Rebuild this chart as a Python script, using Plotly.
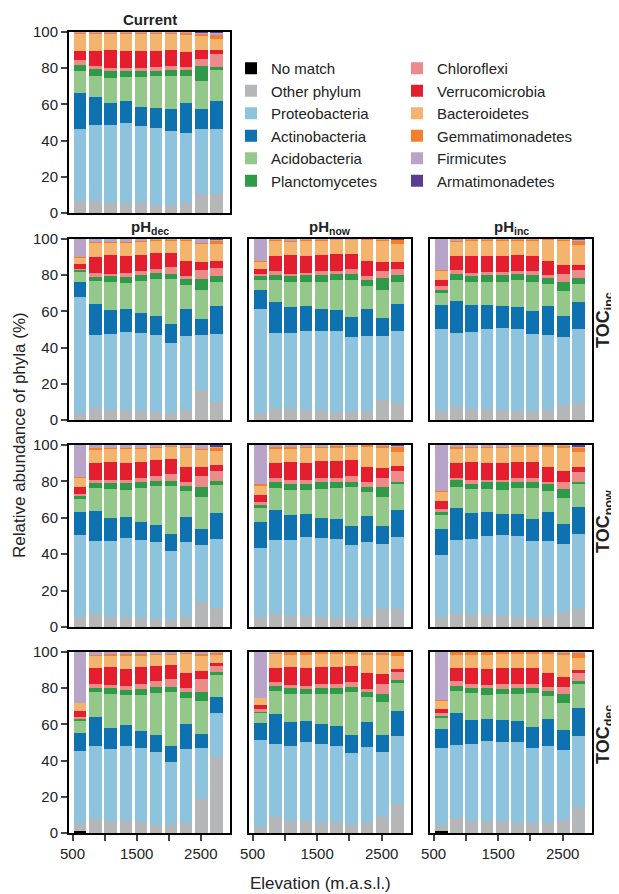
import plotly.graph_objects as go

# elevation of the 10 sites (m a.s.l.)
elevation = [620, 855, 1090, 1330, 1565, 1800, 2035, 2270, 2510, 2745]

phyla = ["No match", "Other phylum", "Proteobacteria", "Actinobacteria",
         "Acidobacteria", "Planctomycetes", "Chloroflexi", "Verrucomicrobia",
         "Bacteroidetes", "Gemmatimonadetes", "Firmicutes", "Armatimonadetes"]
colors = ["#000000", "#b4b6b7", "#8ec3de", "#0f72b0", "#94c88a", "#2f9a47",
          "#ed8a8a", "#e51e2f", "#f5b46d", "#f37f2e", "#b8a4c9", "#5b3c90"]

# cumulative upper edge (%) of each phylum, rows in the order of `phyla`
current = [
    [0, 0, 0, 0, 0, 0, 0, 0, 0, 0],
    [6.6, 6.6, 5.7, 5.7, 5.3, 4.2, 4.6, 5.3, 10.3, 10.3],
    [46.6, 48.8, 48.8, 49.9, 48.3, 47.1, 45.5, 44.4, 46.6, 46.6],
    [66.5, 64.3, 61.0, 62.1, 58.7, 58.2, 57.6, 61.0, 57.6, 62.1],
    [78.6, 75.9, 74.8, 75.3, 75.3, 75.9, 75.9, 75.9, 73.1, 79.2],
    [82.0, 79.7, 78.6, 78.6, 78.6, 78.6, 79.2, 79.2, 81.4, 80.8],
    [84.3, 81.4, 80.3, 80.3, 80.3, 80.8, 81.4, 80.8, 85.3, 88.0],
    [89.7, 89.3, 89.9, 89.3, 89.3, 89.3, 89.9, 89.1, 90.2, 90.2],
    [98.9, 98.9, 98.9, 98.9, 98.9, 98.9, 98.9, 98.3, 98.0, 96.3],
    [99.4, 99.4, 99.4, 99.4, 99.4, 99.4, 99.4, 99.4, 98.9, 98.5],
    [100, 100, 100, 100, 100, 100, 100, 100, 99.6, 99.3],
    [100, 100, 100, 100, 100, 100, 100, 100, 100, 100],
]

phdec_tocinc = [
    [0, 0, 0, 0, 0, 0, 0, 0, 0, 0],
    [3.1, 6.8, 5.5, 5.5, 5.2, 4.4, 4.1, 5.5, 16.6, 9.9],
    [68.0, 47.0, 47.5, 48.6, 48.1, 47.0, 42.5, 46.4, 47.0, 47.5],
    [76.2, 64.1, 60.8, 61.3, 59.1, 57.5, 53.0, 61.3, 55.8, 63.0],
    [81.8, 76.8, 76.2, 75.7, 76.8, 77.9, 77.9, 74.6, 71.8, 76.2],
    [82.9, 79.0, 79.6, 79.0, 80.1, 81.2, 80.7, 77.9, 77.9, 79.6],
    [83.6, 81.2, 80.7, 81.2, 82.3, 83.4, 84.5, 79.6, 82.9, 84.0],
    [86.4, 90.1, 91.2, 90.6, 91.2, 92.3, 92.3, 87.8, 87.3, 87.8],
    [89.7, 97.8, 97.8, 97.8, 98.3, 98.9, 98.9, 98.9, 97.2, 97.2],
    [90.0, 98.3, 98.3, 98.3, 98.8, 99.4, 99.4, 99.4, 97.8, 98.9],
    [100, 100, 100, 100, 100, 100, 100, 100, 100, 99.4],
    [100, 100, 100, 100, 100, 100, 100, 100, 100, 100],
]

phnow_tocinc = [
    [0, 0, 0, 0, 0, 0, 0, 0, 0, 0],
    [4.1, 6.8, 6.3, 5.5, 5.5, 4.4, 4.4, 5.2, 11.1, 9.6],
    [61.6, 48.2, 48.2, 49.4, 49.4, 49.4, 46.0, 46.6, 46.6, 49.4],
    [72.1, 65.4, 62.7, 63.2, 61.6, 61.0, 57.1, 61.6, 56.6, 64.3],
    [77.6, 77.1, 76.0, 76.0, 76.5, 77.1, 77.6, 74.3, 72.1, 76.0],
    [79.3, 79.9, 79.3, 79.9, 79.9, 80.4, 80.4, 77.1, 78.2, 79.9],
    [80.4, 82.1, 80.4, 81.0, 82.1, 82.1, 83.2, 79.3, 82.1, 83.2],
    [83.2, 90.4, 90.9, 90.4, 90.9, 91.5, 91.5, 87.6, 87.1, 87.1],
    [87.1, 98.7, 98.2, 98.7, 98.7, 99.3, 99.3, 99.3, 98.7, 97.0],
    [87.6, 99.2, 98.7, 99.2, 99.2, 99.6, 99.6, 99.8, 99.2, 99.3],
    [100, 100, 100, 100, 100, 100, 100, 100, 100, 99.6],
    [100, 100, 100, 100, 100, 100, 100, 100, 100, 100],
]

phinc_tocinc = [
    [0, 0, 0, 0, 0, 0, 0, 0, 0, 0],
    [5.2, 7.4, 6.3, 6.3, 5.5, 5.2, 5.2, 5.5, 8.5, 9.6],
    [50.5, 48.2, 48.8, 50.5, 51.0, 50.5, 47.7, 47.1, 46.0, 50.5],
    [63.8, 66.0, 63.8, 63.8, 63.2, 62.7, 60.4, 63.2, 57.7, 65.4],
    [70.4, 77.6, 76.5, 76.5, 76.5, 77.1, 76.5, 74.9, 71.0, 75.4],
    [72.1, 80.4, 79.3, 79.9, 79.9, 80.4, 79.9, 78.2, 76.5, 78.7],
    [74.3, 82.6, 81.0, 81.5, 81.5, 82.1, 82.1, 79.9, 80.4, 82.6],
    [77.1, 90.4, 90.4, 90.4, 90.4, 90.9, 90.4, 87.6, 85.4, 85.4],
    [82.1, 98.2, 98.9, 98.9, 98.9, 98.9, 98.9, 99.3, 98.7, 96.5],
    [82.6, 98.7, 99.4, 99.4, 99.4, 99.4, 99.4, 99.8, 99.3, 98.7],
    [100, 100, 100, 100, 100, 100, 100, 100, 100, 99.5],
    [100, 100, 100, 100, 100, 100, 100, 100, 100, 100],
]

phdec_tocnow = [
    [0, 0, 0, 0, 0, 0, 0, 0, 0, 0],
    [5.3, 7.2, 5.3, 5.3, 5.0, 4.2, 3.9, 5.3, 13.8, 10.5],
    [50.5, 47.2, 47.2, 48.8, 47.7, 46.6, 41.7, 46.6, 45.0, 48.3],
    [63.1, 63.7, 59.8, 60.4, 57.6, 56.0, 51.0, 60.4, 53.8, 62.6],
    [70.3, 76.3, 75.8, 75.2, 76.3, 77.4, 77.4, 74.7, 71.4, 78.0],
    [71.9, 79.1, 79.1, 79.1, 79.6, 80.2, 80.2, 77.4, 76.9, 80.2],
    [73.0, 80.7, 80.7, 80.7, 81.8, 82.9, 84.0, 79.6, 82.9, 85.7],
    [76.9, 90.1, 90.6, 90.1, 90.6, 91.7, 92.3, 87.9, 87.9, 89.0],
    [81.8, 97.2, 97.8, 97.8, 97.8, 98.3, 98.9, 98.3, 97.2, 96.7],
    [82.4, 98.3, 98.3, 98.3, 98.3, 98.9, 99.4, 98.9, 97.8, 98.3],
    [100, 100, 100, 100, 100, 100, 100, 100, 100, 98.9],
    [100, 100, 100, 100, 100, 100, 100, 100, 100, 100],
]

phnow_tocnow = [
    [0, 0, 0, 0, 0, 0, 0, 0, 0, 0],
    [5.3, 7.2, 6.1, 6.1, 5.3, 5.0, 4.2, 5.3, 9.8, 9.8],
    [43.5, 47.9, 47.9, 49.5, 49.0, 48.4, 45.1, 46.8, 45.7, 49.5],
    [57.8, 64.5, 61.7, 62.2, 60.0, 59.5, 55.6, 61.1, 55.6, 64.5],
    [65.6, 76.6, 75.5, 75.5, 76.1, 76.6, 77.2, 74.4, 71.6, 78.3],
    [67.2, 79.9, 78.8, 78.8, 79.4, 79.9, 79.9, 77.2, 77.2, 79.9],
    [68.9, 81.6, 80.5, 81.0, 81.6, 81.6, 82.7, 79.4, 81.6, 85.5],
    [72.7, 89.9, 90.4, 89.9, 91.0, 91.0, 91.5, 87.7, 87.1, 88.2],
    [77.7, 97.6, 97.6, 98.2, 98.2, 98.2, 98.7, 98.7, 98.2, 95.9],
    [78.3, 98.7, 98.7, 98.7, 98.7, 99.3, 99.3, 100, 99.3, 98.7],
    [100, 100, 100, 100, 100, 100, 100, 100, 100, 99.3],
    [100, 100, 100, 100, 100, 100, 100, 100, 100, 100],
]

phinc_tocnow = [
    [0, 0, 0, 0, 0, 0, 0, 0, 0, 0],
    [5.3, 7.2, 6.4, 6.4, 6.1, 5.3, 5.0, 5.3, 7.6, 9.8],
    [39.6, 47.9, 48.4, 50.1, 50.6, 50.1, 47.3, 47.3, 45.7, 51.2],
    [54.0, 65.6, 62.8, 63.4, 62.2, 62.2, 59.5, 63.4, 56.7, 66.1],
    [61.7, 77.2, 76.1, 76.1, 75.5, 76.6, 76.6, 75.0, 71.1, 78.3],
    [63.4, 80.5, 78.8, 79.4, 79.4, 79.4, 79.4, 78.3, 76.1, 79.9],
    [65.0, 82.1, 80.5, 81.0, 81.0, 81.6, 81.6, 79.9, 79.9, 84.9],
    [69.4, 89.9, 90.4, 89.9, 89.9, 90.4, 90.4, 87.7, 85.5, 87.7],
    [74.4, 97.6, 98.2, 98.2, 98.2, 98.7, 98.7, 98.7, 98.2, 95.9],
    [75.0, 98.7, 98.7, 98.7, 98.7, 99.3, 99.3, 99.8, 99.3, 98.2],
    [100, 100, 100, 100, 100, 100, 100, 100, 100, 98.7],
    [100, 100, 100, 100, 100, 100, 100, 100, 100, 100],
]

phdec_tocdec = [
    [0.7, 0, 0, 0, 0, 0, 0, 0, 0, 0],
    [5.1, 7.9, 6.4, 6.4, 5.9, 4.6, 4.2, 5.7, 18.9, 42.0],
    [45.3, 48.1, 46.4, 48.1, 47.0, 44.8, 39.3, 46.4, 47.0, 66.2],
    [55.2, 64.0, 58.0, 59.6, 56.3, 54.1, 48.1, 60.2, 54.7, 75.0],
    [61.8, 77.8, 76.7, 76.1, 76.1, 77.2, 77.8, 74.5, 72.8, 87.2],
    [62.9, 80.0, 80.0, 78.9, 79.4, 80.6, 80.6, 77.8, 77.8, 88.8],
    [64.0, 82.2, 81.7, 81.1, 82.2, 83.9, 85.0, 80.0, 85.0, 92.1],
    [67.3, 91.0, 91.6, 90.5, 91.6, 92.1, 92.7, 88.3, 89.4, 93.8],
    [71.7, 97.6, 97.6, 97.6, 97.6, 98.2, 98.2, 98.7, 97.6, 98.2],
    [72.1, 98.2, 98.7, 98.7, 98.7, 98.8, 98.9, 99.3, 98.7, 99.3],
    [100, 100, 100, 100, 100, 100, 100, 100, 100, 100],
    [100, 100, 100, 100, 100, 100, 100, 100, 100, 100],
]

phnow_tocdec = [
    [0, 0, 0, 0, 0, 0, 0, 0, 0, 0],
    [3.5, 9.1, 6.9, 6.5, 5.7, 5.4, 4.6, 5.4, 9.1, 16.3],
    [51.3, 49.1, 48.0, 50.2, 49.1, 48.0, 44.1, 47.4, 44.6, 53.5],
    [60.7, 65.7, 61.3, 61.9, 60.2, 59.1, 54.1, 61.3, 54.1, 67.4],
    [66.3, 78.5, 76.9, 76.9, 76.9, 76.9, 78.0, 75.2, 72.4, 83.0],
    [67.0, 81.3, 80.2, 79.6, 80.2, 80.2, 80.7, 78.0, 76.9, 84.6],
    [68.5, 83.5, 81.9, 81.3, 82.4, 82.4, 83.5, 79.6, 82.4, 89.1],
    [70.7, 91.3, 91.9, 91.3, 91.9, 91.9, 92.4, 88.5, 88.0, 90.7],
    [74.6, 99.1, 98.5, 98.5, 99.1, 99.1, 99.1, 98.5, 98.5, 98.0],
    [74.8, 99.4, 99.8, 99.8, 99.8, 99.8, 100, 99.6, 99.6, 99.8],
    [100, 100, 100, 100, 100, 100, 100, 100, 100, 100],
    [100, 100, 100, 100, 100, 100, 100, 100, 100, 100],
]

phinc_tocdec = [
    [0.8, 0, 0, 0, 0, 0, 0, 0, 0, 0],
    [4.6, 8.5, 6.9, 6.9, 6.9, 5.7, 5.7, 5.7, 7.4, 14.1],
    [46.9, 48.5, 49.1, 50.7, 50.2, 50.2, 46.9, 48.0, 45.7, 53.5],
    [57.4, 66.3, 62.4, 63.0, 62.4, 61.9, 58.5, 63.0, 56.9, 69.1],
    [63.5, 78.5, 77.4, 76.3, 76.9, 76.9, 77.4, 75.7, 71.9, 82.4],
    [64.6, 81.3, 80.2, 80.2, 79.6, 80.2, 80.2, 78.5, 76.9, 84.1],
    [66.3, 84.1, 82.4, 81.9, 82.4, 82.4, 82.4, 80.7, 80.7, 88.5],
    [68.5, 91.3, 91.3, 90.7, 91.3, 91.3, 91.3, 88.5, 86.3, 90.2],
    [73.0, 98.5, 98.5, 98.5, 99.1, 99.1, 99.1, 99.1, 98.5, 96.9],
    [73.5, 99.8, 99.8, 99.8, 99.8, 99.8, 100, 100, 99.6, 99.6],
    [100, 100, 100, 100, 100, 100, 100, 100, 100, 100],
    [100, 100, 100, 100, 100, 100, 100, 100, 100, 100],
]

col_titles = ["pH<sub>dec</sub>", "pH<sub>now</sub>", "pH<sub>inc</sub>"]
row_titles = ["TOC<sub>inc</sub>", "TOC<sub>now</sub>", "TOC<sub>dec</sub>"]

# page body adds an 8px margin, so the figure is a bit smaller than the window
OFF = 8
W, H = 619 - OFF, 894 - OFF


def fx(px):
    return (px - OFF) / W


def fy(py):
    return 1 - (py - OFF) / H


col_px = [(69, 230), (249, 411), (430, 592)]
row_px = [(32, 213), (239, 420), (445, 627), (652, 833)]

# (data, row, col)
panels = [
    (current, 0, 0),
    (phdec_tocinc, 1, 0), (phnow_tocinc, 1, 1), (phinc_tocinc, 1, 2),
    (phdec_tocnow, 2, 0), (phnow_tocnow, 2, 1), (phinc_tocnow, 2, 2),
    (phdec_tocdec, 3, 0), (phnow_tocdec, 3, 1), (phinc_tocdec, 3, 2),
]

font = "Liberation Sans, Arial, sans-serif"
fig = go.Figure()
layout = {}

for k, (tops, r, c) in enumerate(panels, start=1):
    xa = "x" if k == 1 else "x%d" % k
    ya = "y" if k == 1 else "y%d" % k
    # draw from top phylum down, each covering the one above
    for p in reversed(range(len(phyla))):
        fig.add_trace(go.Bar(
            x=elevation, y=tops[p], width=195,
            marker=dict(color=colors[p], line=dict(width=0)),
            name=phyla[p], xaxis=xa, yaxis=ya,
            showlegend=(k == 1), legendrank=p + 1,
            legend="legend" if p < 6 else "legend2",
        ))
    x0, x1 = col_px[c]
    y0, y1 = row_px[r]
    bottom = (r == 3)
    left = (c == 0)
    layout["xaxis" if k == 1 else "xaxis%d" % k] = dict(
        domain=[fx(x0), fx(x1)], anchor=ya, range=[445, 2955],
        showline=True, mirror=True, linecolor="black", linewidth=2,
        showgrid=False, zeroline=False, automargin=False,
        tick0=500, dtick=1000,
        ticks="outside" if bottom else "", ticklen=6, tickwidth=1.5,
        minor=dict(tick0=500, dtick=500, ticks="outside" if bottom else "",
                   ticklen=6, tickwidth=1.5, showgrid=False),
        showticklabels=bottom, tickfont=dict(size=15, color="#222"),
    )
    layout["yaxis" if k == 1 else "yaxis%d" % k] = dict(
        domain=[fy(y1), fy(y0)], anchor=xa, range=[0, 100],
        showline=True, mirror=True, linecolor="black", linewidth=2,
        showgrid=False, zeroline=False, automargin=False,
        tickvals=[0, 20, 40, 60, 80, 100],
        ticks="outside" if left else "", ticklen=6, tickwidth=1.5,
        showticklabels=left, tickfont=dict(size=15, color="#222"),
    )

annotations = [
    dict(text="<b>Current</b>", x=fx(149.5), y=fy(19), font=dict(size=15)),
    dict(text="Elevation (m.a.s.l.)", x=fx(320), y=fy(883), font=dict(size=17)),
    dict(text="Relative abundance of phyla (%)", x=fx(19), y=fy(435),
         textangle=-90, font=dict(size=17)),
]
for c, t in enumerate(col_titles):
    annotations.append(dict(text="<b>" + t + "</b>", x=fx(sum(col_px[c]) / 2),
                            y=fy(228), font=dict(size=15)))
for r, (t, yc) in enumerate(zip(row_titles, [320, 522, 735])):
    annotations.append(dict(text="<b>" + t + "</b>", x=fx(604), y=fy(yc),
                            textangle=-90, font=dict(size=18)))
for a in annotations:
    a.update(xref="paper", yref="paper", showarrow=False,
             xanchor="center", yanchor="middle")

fig.update_layout(
    width=W, height=H,
    margin=dict(l=0, r=0, t=0, b=0, pad=0, autoexpand=False),
    plot_bgcolor="white", paper_bgcolor="white",
    barmode="overlay", bargap=0,
    font=dict(family=font, color="#222"),
    annotations=annotations,
    legend=dict(x=fx(231), y=fy(52), xanchor="left", yanchor="top",
                font=dict(size=15), bgcolor="rgba(0,0,0,0)", itemwidth=30,
                traceorder="normal"),
    legend2=dict(x=fx(397), y=fy(52), xanchor="left", yanchor="top",
                 font=dict(size=15), bgcolor="rgba(0,0,0,0)", itemwidth=30,
                 traceorder="normal"),
    **layout,
)

fig.write_html("out.html")
